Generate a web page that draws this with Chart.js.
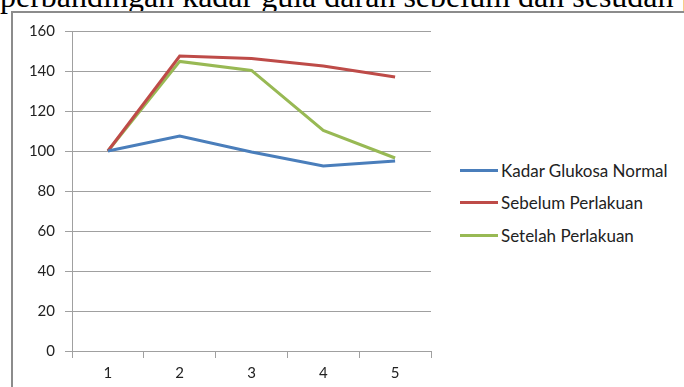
<!DOCTYPE html>
<html>
<head>
<meta charset="utf-8">
<script src="https://cdn.jsdelivr.net/npm/chart.js@4"></script>
<style>
    body { margin: 0; background: #fff; width: 684px; height: 387px; overflow: hidden; position: relative; }
    #title {
        position: absolute; left: 0; top: -20px; white-space: nowrap;
        font-family: "Liberation Serif", "Times New Roman", serif; font-size: 32px; line-height: 32px; color: #000;
    }
    #frame {
        position: absolute; left: 11px; top: 11px; right: -4px; bottom: -4px;
        border-left: 2px solid #8c8c8c; border-top: 2px solid #8c8c8c; background: #fff;
    }
    #chartWrap { position: absolute; left: 0; top: 0; width: 432px; height: 387px; }
    #legend { position: absolute; left: 460px; top: 154px; font-family: Lato, sans-serif; font-size: 17px; color: #222; }
    .item { height: 32.5px; display: flex; align-items: center; }
    .item span.line { display: inline-block; width: 38px; height: 3px; margin-right: 3px; }
</style>
</head>
<body>
<div id="title">perbandingan kadar gula darah sebelum dan sesudah perlakuan</div>
<div id="frame"></div>
<div id="chartWrap"><canvas id="glukosaChart"></canvas></div>
<div id="legend"></div>
<script>
// chart data
const categories = ['1', '2', '3', '4', '5'];
const seriesNames = ['Kadar Glukosa Normal', 'Sebelum Perlakuan', 'Setelah Perlakuan'];
const kadarNormal = [100, 107.5, 99.5, 92.5, 95];
const sebelumPerlakuan = [100, 147.5, 146.3, 142.5, 137];
const setelahPerlakuan = [100, 144.8, 140.3, 110.3, 96.5];
const seriesColors = ['#4a7ebb', '#be4b48', '#98b954'];
const yTicks = { min: 0, max: 160, step: 20 };

const gridColor = '#a0a0a0';
const tickFont = { family: 'Lato, sans-serif', size: 15 };

const ctx = document.getElementById('glukosaChart').getContext('2d');
const chart = new Chart(ctx, {
    type: 'line',
    data: {
        labels: categories,
        datasets: [kadarNormal, sebelumPerlakuan, setelahPerlakuan].map((values, i) => ({
            label: seriesNames[i],
            data: values,
            borderColor: seriesColors[i],
            backgroundColor: seriesColors[i],
            borderWidth: 3,
            pointRadius: 0,
            tension: 0
        }))
    },
    options: {
        responsive: true,
        maintainAspectRatio: false,
        animation: false,
        layout: { padding: { top: 31, right: 1, bottom: 0, left: 0 } },
        plugins: {
            legend: { display: false },
            tooltip: { enabled: false }
        },
        scales: {
            x: {
                offset: true,
                grid: { offset: true, drawOnChartArea: false, tickLength: 7, color: gridColor },
                border: { color: gridColor },
                ticks: { font: tickFont, color: '#222', padding: 6, maxRotation: 0 },
                afterFit(scale) { scale.height = 36; }
            },
            y: {
                min: yTicks.min,
                max: yTicks.max,
                grid: { tickLength: 7, color: gridColor },
                border: { color: gridColor },
                ticks: { stepSize: yTicks.step, font: tickFont, color: '#222', padding: 10 },
                afterFit(scale) { scale.width = 72; }
            }
        }
    }
});

// legend as html so the spacing matches the original
const legend = document.getElementById('legend');
chart.data.datasets.forEach(ds => {
    const row = document.createElement('div');
    row.className = 'item';
    row.innerHTML = '<span class="line" style="background:' + ds.borderColor + '"></span>' + ds.label;
    legend.appendChild(row);
});
</script>
</body>
</html>
